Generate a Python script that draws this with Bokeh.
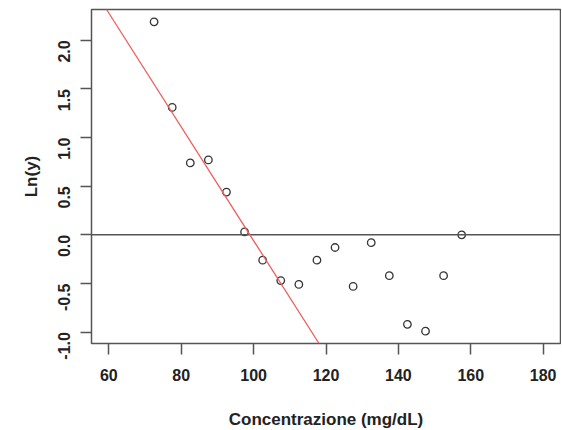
from bokeh.plotting import figure
from bokeh.models import Range1d, FixedTicker, Span, Slope, NumeralTickFormatter
from bokeh.embed import file_html
from bokeh.resources import INLINE
import math

# data
conc = [72.5, 77.5, 82.5, 87.5, 92.5, 97.5, 102.5, 107.5, 112.5, 117.5,
        122.5, 127.5, 132.5, 137.5, 142.5, 147.5, 152.5, 157.5]
ln_y = [2.19, 1.31, 0.74, 0.77, 0.44, 0.03, -0.26, -0.47, -0.51, -0.26,
        -0.13, -0.53, -0.08, -0.42, -0.92, -0.99, -0.42, 0.00]
fit_intercept = 5.79
fit_slope = -0.0585
x_ticks = [60, 80, 100, 120, 140, 160, 180]
y_ticks = [-1.0, -0.5, 0.0, 0.5, 1.0, 1.5, 2.0]
xlim = (60, 180)

# R-style 4% padding
xpad = 0.04 * (xlim[1] - xlim[0])
ymin, ymax = min(ln_y), max(ln_y)
ypad = 0.04 * (ymax - ymin)

FONT = "Liberation Sans"

p = figure(width=554, height=422, output_backend="svg", toolbar_location=None,
           x_range=Range1d(xlim[0] - xpad, xlim[1] + xpad),
           y_range=Range1d(ymin - ypad, ymax + ypad),
           frame_width=469, frame_height=334,
           min_border_left=91, min_border_top=9, min_border_right=1, min_border_bottom=84)

p.grid.visible = False
p.outline_line_color = "#555555"
p.outline_line_width = 1.5
p.background_fill_color = "white"
p.border_fill_color = "white"

for ax in (p.xaxis[0], p.yaxis[0]):
    ax.axis_line_color = None
    ax.major_tick_line_color = "#555555"
    ax.major_tick_line_width = 1.5
    ax.major_tick_out = 11
    ax.major_tick_in = 0
    ax.minor_tick_line_color = None
    ax.major_label_text_font = FONT
    ax.major_label_text_font_size = "16px"
    ax.major_label_text_font_style = "bold"
    ax.major_label_text_color = "#222222"
    ax.axis_label_text_font = FONT
    ax.axis_label_text_font_size = "17px"
    ax.axis_label_text_font_style = "bold"
    ax.axis_label_text_color = "#222222"

p.xaxis.ticker = FixedTicker(ticks=x_ticks)
p.yaxis.ticker = FixedTicker(ticks=y_ticks)
p.yaxis.formatter = NumeralTickFormatter(format="0.0")
p.yaxis.major_label_orientation = math.pi / 2
p.xaxis.axis_label = "Concentrazione (mg/dL)"
p.yaxis.axis_label = "Ln(y)"
p.xaxis.major_label_standoff = 14
p.xaxis.axis_label_standoff = 26
p.yaxis.major_label_standoff = 16
p.yaxis.axis_label_standoff = 9

p.add_layout(Span(location=0, dimension="width", line_color="#555555", line_width=1.5))
p.add_layout(Slope(gradient=fit_slope, y_intercept=fit_intercept,
                   line_color="#f05c5c", line_width=1.3))

p.scatter(conc, ln_y, marker="circle", size=7.5, fill_color=None,
          line_color="#333333", line_width=1.3)

open("out.html", "w").write(file_html(p, INLINE))
